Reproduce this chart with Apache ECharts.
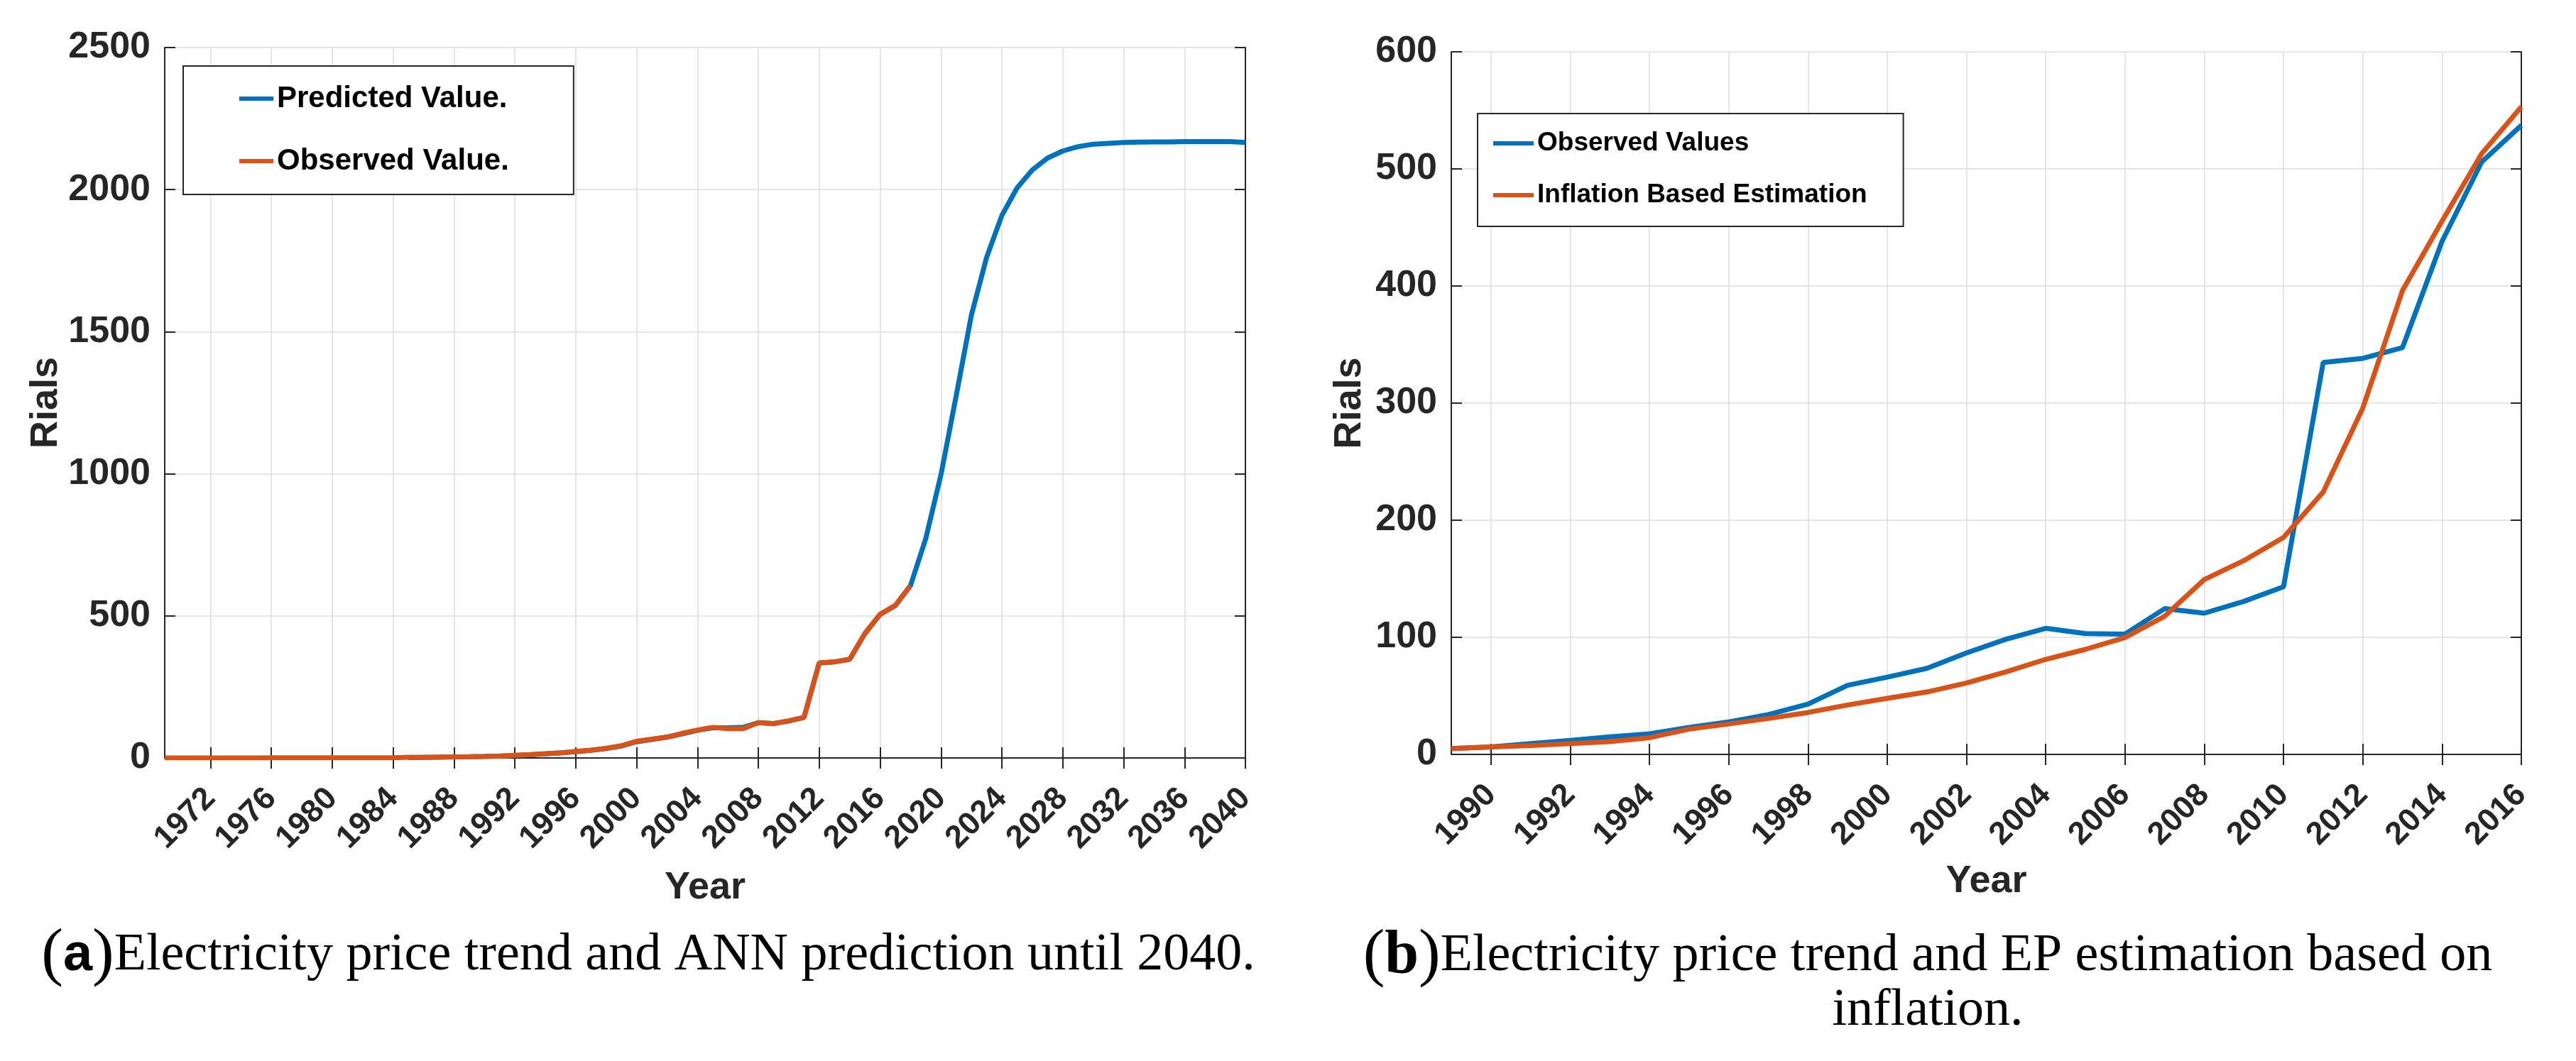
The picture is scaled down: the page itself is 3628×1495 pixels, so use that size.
<!DOCTYPE html>
<html><head><meta charset="utf-8">
<script src="https://cdn.jsdelivr.net/npm/echarts@6/dist/echarts.min.js"></script>
<style>html,body{margin:0;padding:0;background:#fff}#c{width:3628px;height:1495px}</style>
</head><body><div id="c"></div>
<script>
// ---------- Chart (a) ----------
const yearsA = ['1969','1970','1971','1972','1973','1974','1975','1976','1977','1978','1979','1980','1981','1982','1983','1984','1985','1986','1987','1988','1989','1990','1991','1992','1993','1994','1995','1996','1997','1998','1999','2000','2001','2002','2003','2004','2005','2006','2007','2008','2009','2010','2011','2012','2013','2014','2015','2016','2017','2018','2019','2020','2021','2022','2023','2024','2025','2026','2027','2028','2029','2030','2031','2032','2033','2034','2035','2036','2037','2038','2039','2040'];
// observed 1969..2018
const observedA = [0.2,0.2,0.2,0.3,0.3,0.3,0.3,0.4,0.4,0.4,0.5,0.5,0.6,0.7,0.8,
  0.9,2.5,2.8,3.2,3.8,4.3,5,6.3,9.3,12,15,17.6,23,27.7,34,43,59,66,73.5,86.7,98.4,107.7,103,103,124.5,120.6,130.7,143.2,334.7,338.2,347.3,438.2,505.9,537.2,606];
// predicted 1985..2040
const predictedStartA = '1985';
const predictedA = [1.5,2.0,2.8,3.6,4.5,5.5,7,9,11.5,14.5,
  18,22,27,33,42,57,65,73,85,97,
  106,106,108,124,121,130,142,334,338,347,
  437,505,536,607,772,997,1275,1559,1762,1909,
  2006,2069,2111,2136,2151,2160,2163,2166,2167,2168,
  2168,2169,2169,2169,2169,2166];
const tickYearsA = ['1972','1976','1980','1984','1988','1992','1996','2000','2004','2008','2012','2016','2020','2024','2028','2032','2036','2040'];
const yTicksA = [0,500,1000,1500,2000,2500];

// ---------- Chart (b) ----------
const yearsB = ['1989','1990','1991','1992','1993','1994','1995','1996','1997','1998','1999','2000','2001','2002','2003','2004','2005','2006','2007','2008','2009','2010','2011','2012','2013','2014','2015','2016'];
const observedB = [5,6.3,9.3,12,15,17.6,23,27.7,34,43,59,66,73.5,86.7,98.4,107.7,103.2,102.8,124.5,120.6,130.7,143.2,334.7,338.2,347.3,438.2,505.9,537.2];
const inflationB = [5,6.3,7.5,9.3,10.9,14.3,21.6,26,30.7,35.8,42.2,47.9,53.3,61,70.5,81.2,89.7,99.8,118,149.3,165.5,185.3,224,295.8,396,455.4,513,553];
const tickYearsB = ['1990','1992','1994','1996','1998','2000','2002','2004','2006','2008','2010','2012','2014','2016'];
const yTicksB = [0,100,200,300,400,500,600];

const BLUE = '#0072BD', ORANGE = '#D95319', AX = '#262626', GRID = '#dedede';
const SANS = 'Liberation Sans', SERIF = 'Liberation Serif';

const offA = yearsA.indexOf(predictedStartA);
const predSeriesA = yearsA.map((y, i) => i < offA ? null : (predictedA[i - offA] ?? null));
const obsSeriesA = yearsA.map((y, i) => observedA[i] ?? null);

function bottomX(gi, cats, ticks, gap) {
  const f = (i, v) => ticks.includes(v);
  return {
    type: 'category', gridIndex: gi, data: cats, boundaryGap: false, position: 'bottom',
    axisLine: {show: true, lineStyle: {color: AX, width: 2}},
    axisTick: {show: true, inside: true, length: 15, interval: f, lineStyle: {color: AX, width: 2}},
    axisLabel: {show: true, interval: f, rotate: 45, margin: 50, fontFamily: SANS, fontWeight: 'bold', fontSize: 45, color: AX},
    splitLine: {show: true, interval: f, lineStyle: {color: GRID, width: 1.5}},
    name: 'Year', nameLocation: 'middle', nameGap: gap,
    nameTextStyle: {fontFamily: SANS, fontWeight: 'bold', fontSize: 54, color: AX}
  };
}
function topX(gi, cats, ticks) {
  const f = (i, v) => ticks.includes(v);
  return {
    type: 'category', gridIndex: gi, data: cats, boundaryGap: false, position: 'top',
    axisLine: {show: true, lineStyle: {color: AX, width: 2}},
    axisTick: {show: true, inside: true, length: 15, interval: f, lineStyle: {color: AX, width: 2}},
    axisLabel: {show: false}, splitLine: {show: false}
  };
}
function leftY(gi, ticks, gap) {
  return {
    type: 'value', gridIndex: gi, position: 'left', min: ticks[0], max: ticks[ticks.length - 1], interval: ticks[1] - ticks[0],
    axisLine: {show: true, lineStyle: {color: AX, width: 2}},
    axisTick: {show: true, inside: true, length: 15, lineStyle: {color: AX, width: 2}},
    axisLabel: {show: true, margin: 20, fontFamily: SANS, fontWeight: 'bold', fontSize: 52, color: AX, formatter: v => String(v)},
    splitLine: {show: true, lineStyle: {color: GRID, width: 1.5}},
    name: 'Rials', nameLocation: 'middle', nameGap: gap,
    nameTextStyle: {fontFamily: SANS, fontWeight: 'bold', fontSize: 54, color: AX}
  };
}
function rightY(gi, ticks) {
  return {
    type: 'value', gridIndex: gi, position: 'right', min: ticks[0], max: ticks[ticks.length - 1], interval: ticks[1] - ticks[0],
    axisLine: {show: true, lineStyle: {color: AX, width: 2}},
    axisTick: {show: true, inside: true, length: 15, lineStyle: {color: AX, width: 2}},
    axisLabel: {show: false}, splitLine: {show: false}
  };
}
function line(name, xi, yi, data, color, z) {
  return {name, type: 'line', xAxisIndex: xi, yAxisIndex: yi, data, symbol: 'none', showSymbol: false,
    lineStyle: {color, width: 7}, itemStyle: {color}, z, animation: false};
}

const capRich = {
  p: {fontFamily: SERIF, fontWeight: 'normal', fontSize: 92, lineHeight: 80, color: '#000'},
  a: {fontFamily: SANS, fontWeight: 'bold', fontSize: 74, lineHeight: 80, color: '#000'},
  t: {fontFamily: SERIF, fontWeight: 'normal', fontSize: 74, lineHeight: 80, color: '#000'},
  p2: {fontFamily: SERIF, fontWeight: 'normal', fontSize: 92, lineHeight: 77, color: '#000'},
  b2: {fontFamily: SERIF, fontWeight: 'bold', fontSize: 86, lineHeight: 77, color: '#000'},
  t2: {fontFamily: SERIF, fontWeight: 'normal', fontSize: 74, lineHeight: 77, color: '#000'}
};

const chart = echarts.init(document.getElementById('c'), null, {renderer: 'canvas'});
chart.setOption({
  animation: false,
  backgroundColor: '#fff',
  title: [
    {text: '{p|(}{a|a}{p|)}{t|Electricity price trend and ANN prediction until 2040.}', left: 913, top: 1307, padding: 0,
     textAlign: 'center', textStyle: {fontWeight: 'normal', rich: capRich}},
    {text: '{p2|(}{b2|b}{p2|)}{t2|Electricity price trend and EP estimation based on}\n{t2|inflation.}', left: 2715, top: 1309, padding: 0,
     textAlign: 'center', textStyle: {fontWeight: 'normal', rich: capRich}}
  ],
  legend: [
    {data: ['Predicted Value.', 'Observed Value.'], orient: 'vertical', left: 258, top: 93,
     padding: [21, 91, 22, 79], itemGap: 38, itemWidth: 48, itemHeight: 6, icon: 'rect',
     borderColor: AX, borderWidth: 2, borderRadius: 0, backgroundColor: '#fff',
     textStyle: {fontFamily: SANS, fontWeight: 'bold', fontSize: 42, lineHeight: 50, color: '#000'}},
    {data: ['Observed Values', 'Inflation Based Estimation'], orient: 'vertical', left: 2081, top: 160,
     padding: [20, 51, 22, 22], itemGap: 29, itemWidth: 57, itemHeight: 6, icon: 'rect',
     borderColor: AX, borderWidth: 2, borderRadius: 0, backgroundColor: '#fff',
     textStyle: {fontFamily: SANS, fontWeight: 'bold', fontSize: 37, lineHeight: 44, color: '#000'}}
  ],
  grid: [
    {left: 232, top: 67, width: 1522, height: 1001, containLabel: false, outerBoundsMode: 'none'},
    {left: 2044, top: 73, width: 1507, height: 990, containLabel: false, outerBoundsMode: 'none'}
  ],
  xAxis: [
    bottomX(0, yearsA, tickYearsA, 156), topX(0, yearsA, tickYearsA),
    bottomX(1, yearsB, tickYearsB, 152), topX(1, yearsB, tickYearsB)
  ],
  yAxis: [
    leftY(0, yTicksA, 134), rightY(0, yTicksA),
    leftY(1, yTicksB, 116), rightY(1, yTicksB)
  ],
  series: [
    line('Predicted Value.', 0, 0, predSeriesA, BLUE, 2),
    line('Observed Value.', 0, 0, obsSeriesA, ORANGE, 3),
    line('Observed Values', 2, 2, observedB, BLUE, 2),
    line('Inflation Based Estimation', 2, 2, inflationB, ORANGE, 3)
  ]
});
</script>
</body></html>
